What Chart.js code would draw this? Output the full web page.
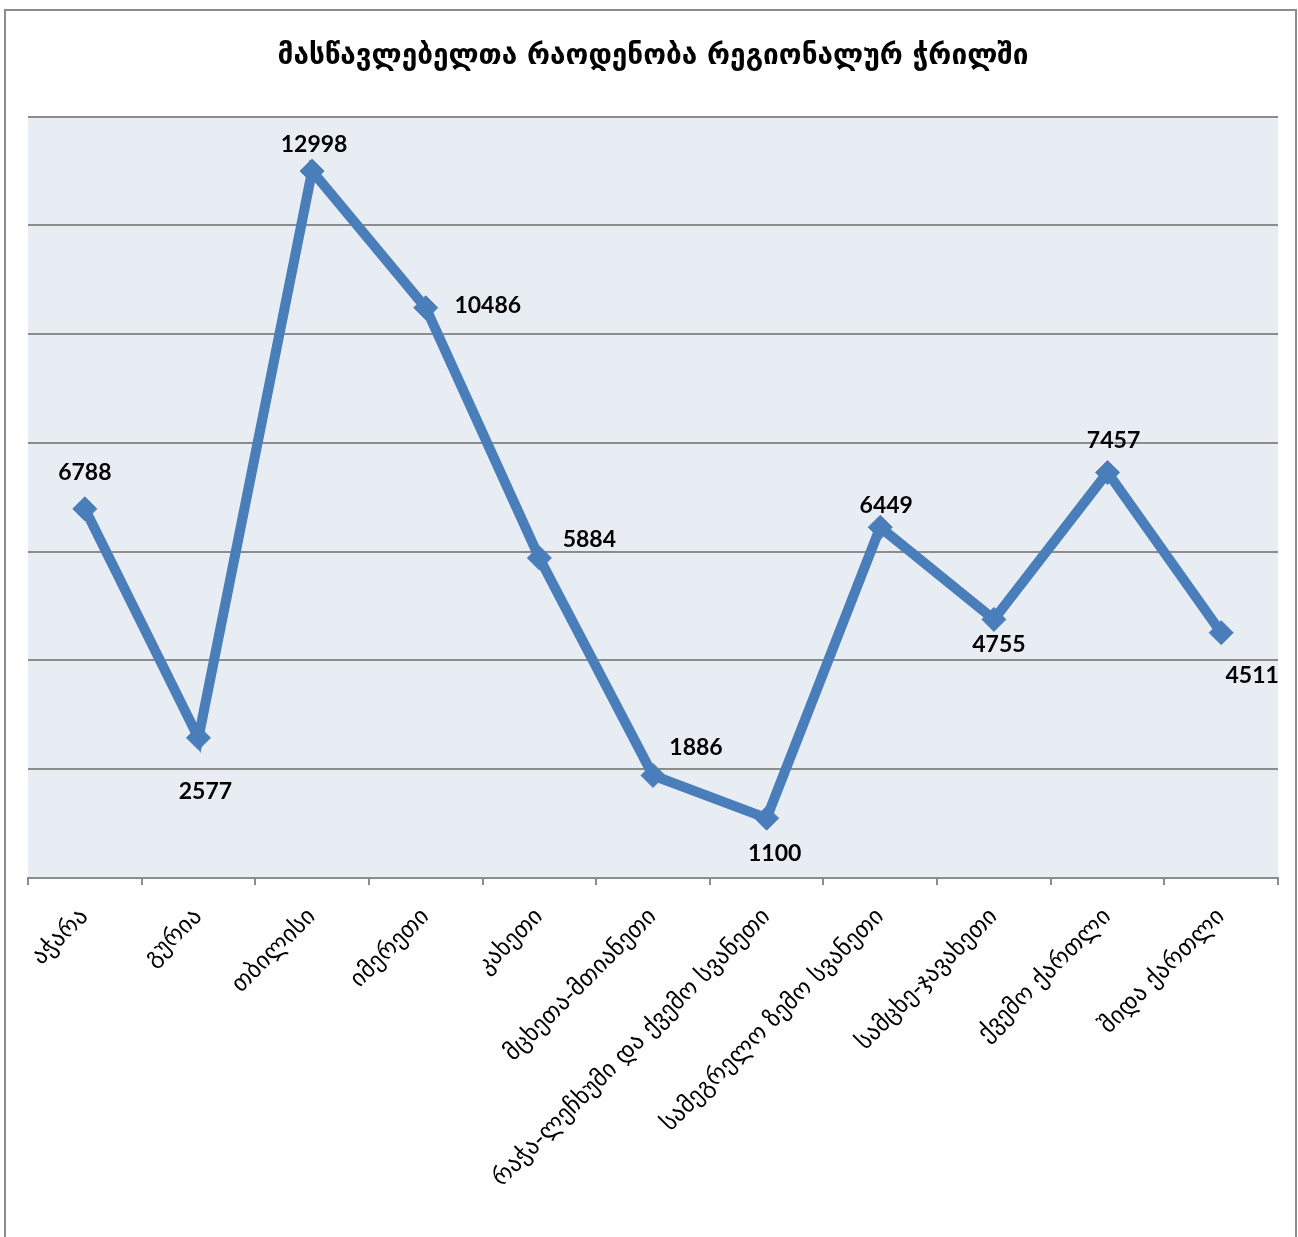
<!DOCTYPE html>
<html>
<head>
<meta charset="utf-8">
<script src="https://cdn.jsdelivr.net/npm/chart.js@4.4.0/dist/chart.umd.min.js"></script>
<style>
    body { margin: 0; background: #fff; }
    #wrap { width: 1298px; height: 1237px; }
</style>
</head>
<body>
<div id="wrap"><canvas id="teachersChart"></canvas></div>
<script>
// regions (x axis)
const regions = [
    "აჭარა",
    "გურია",
    "თბილისი",
    "იმერეთი",
    "კახეთი",
    "მცხეთა-მთიანეთი",
    "რაჭა-ლეჩხუმი და ქვემო სვანეთი",
    "სამეგრელო ზემო სვანეთი",
    "სამცხე-ჯავახეთი",
    "ქვემო ქართლი",
    "შიდა ქართლი"
];

// number of teachers
const teachers = [6788, 2577, 12998, 10486, 5884, 1886, 1100, 6449, 4755, 7457, 4511];

const chartTitle = "მასწავლებელთა რაოდენობა რეგიონალურ ჭრილში";

// where each value label sits relative to its point (dx, dy in px)
const labelOffsets = [
    [0, -36], [7, 54], [2, -27], [62, -2], [50, -18], [43, -28],
    [8, 35], [6, -22], [5, 25], [6, -32], [31, 43]
];

const lineColor = "#4a7ebb";

// plot area background + outer frame
const framePlugin = {
    id: "frame",
    beforeDraw(chart) {
        const ctx = chart.ctx;
        const a = chart.chartArea;
        ctx.save();
        ctx.fillStyle = "#e8edf4";
        ctx.fillRect(a.left, a.top, a.right - a.left, a.bottom - a.top);
        ctx.strokeStyle = "#8c8c8c";
        ctx.lineWidth = 2;
        ctx.beginPath();
        ctx.moveTo(5, 1237);
        ctx.lineTo(5, 10);
        ctx.lineTo(1296, 10);
        ctx.lineTo(1296, 1237);
        ctx.stroke();
        ctx.restore();
    }
};

// value labels next to each marker
const valueLabels = {
    id: "valueLabels",
    afterDatasetsDraw(chart) {
        const ctx = chart.ctx;
        const meta = chart.getDatasetMeta(0);
        ctx.save();
        ctx.font = "bold 23px Lato, 'Liberation Sans', sans-serif";
        ctx.fillStyle = "#000";
        ctx.textAlign = "center";
        ctx.textBaseline = "middle";
        meta.data.forEach((pt, i) => {
            const off = labelOffsets[i];
            ctx.fillText(teachers[i], pt.x + off[0], pt.y + off[1]);
        });
        ctx.restore();
    }
};

new Chart(document.getElementById("teachersChart"), {
    type: "line",
    data: {
        labels: regions,
        datasets: [{
            data: teachers,
            borderColor: lineColor,
            backgroundColor: lineColor,
            borderWidth: 10,
            tension: 0,
            pointStyle: "rectRot",
            pointRadius: 12,
            pointBorderWidth: 1,
            pointBorderColor: lineColor,
            pointBackgroundColor: lineColor
        }]
    },
    options: {
        responsive: true,
        maintainAspectRatio: false,
        animation: false,
        layout: { padding: { left: 28, right: 20, top: 0, bottom: 0 } },
        plugins: {
            legend: { display: false },
            tooltip: { enabled: false },
            title: {
                display: true,
                text: chartTitle,
                color: "#000",
                font: { family: "'DejaVu Sans', sans-serif", size: 28, weight: "bold", lineHeight: 1.2 },
                padding: { top: 40, bottom: 43 }
            }
        },
        scales: {
            x: {
                offset: true,
                grid: {
                    offset: true,
                    drawOnChartArea: false,
                    drawTicks: true,
                    tickLength: 7,
                    color: "#8c8c8c",
                    lineWidth: 2
                },
                border: { display: true, color: "#8c8c8c", width: 2 },
                ticks: {
                    color: "#000",
                    font: { family: "'DejaVu Sans', sans-serif", size: 24 },
                    minRotation: 45,
                    maxRotation: 45,
                    autoSkip: false,
                    padding: 18
                },
                afterFit(scale) { scale.height = 359; }
            },
            y: {
                min: 0,
                max: 14000,
                ticks: { stepSize: 2000, display: false },
                grid: { color: "#8c8c8c", lineWidth: 2, drawTicks: false },
                border: { display: false },
                afterFit(scale) { scale.width = 0; }
            }
        }
    },
    plugins: [framePlugin, valueLabels]
});
</script>
</body>
</html>
